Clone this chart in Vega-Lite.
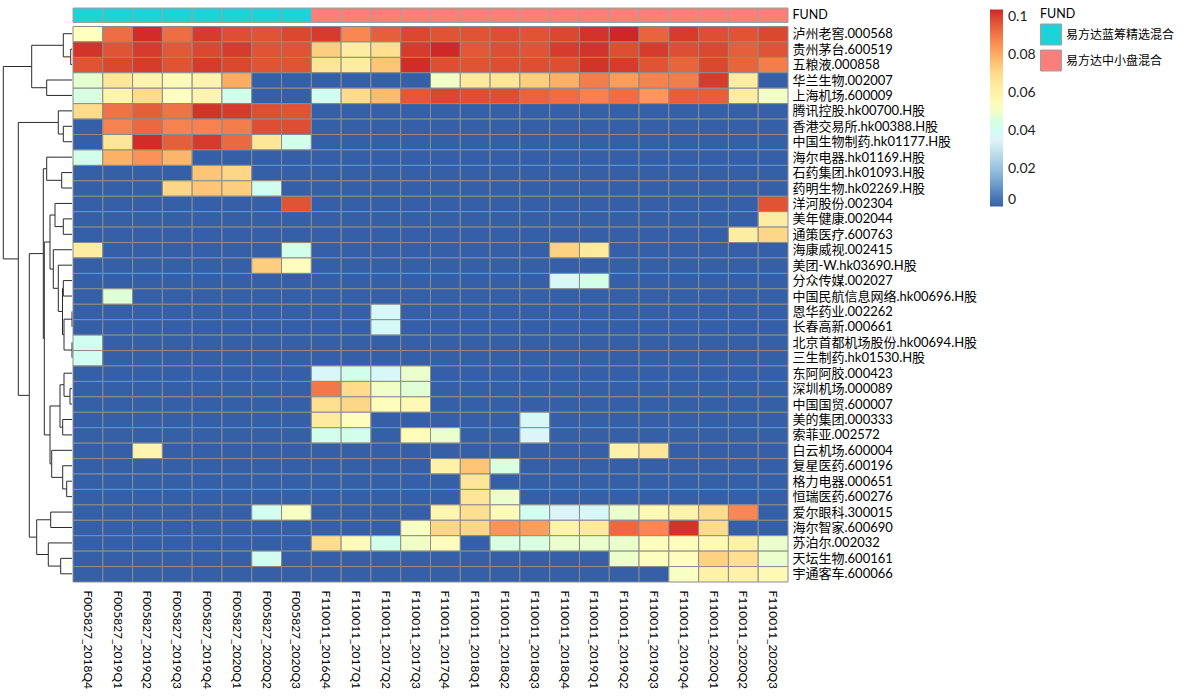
{
"$schema": "https://vega.github.io/schema/vega-lite/v6.json",
"padding": {"left": 0, "top": 7, "right": 0, "bottom": 0},
"background": "white",
"config": {"view": {"stroke": null}, "font": "Lato, 'Noto Sans CJK SC', sans-serif"},
"datasets": {
"stocks": [
{"r":1,"stock":"泸州老窖.000568"},{"r":2,"stock":"贵州茅台.600519"},{"r":3,"stock":"五粮液.000858"},{"r":4,"stock":"华兰生物.002007"},{"r":5,"stock":"上海机场.600009"},{"r":6,"stock":"腾讯控股.hk00700.H股"},{"r":7,"stock":"香港交易所.hk00388.H股"},{"r":8,"stock":"中国生物制药.hk01177.H股"},{"r":9,"stock":"海尔电器.hk01169.H股"},{"r":10,"stock":"石药集团.hk01093.H股"},{"r":11,"stock":"药明生物.hk02269.H股"},{"r":12,"stock":"洋河股份.002304"},{"r":13,"stock":"美年健康.002044"},{"r":14,"stock":"通策医疗.600763"},{"r":15,"stock":"海康威视.002415"},{"r":16,"stock":"美团-W.hk03690.H股"},{"r":17,"stock":"分众传媒.002027"},{"r":18,"stock":"中国民航信息网络.hk00696.H股"},{"r":19,"stock":"恩华药业.002262"},{"r":20,"stock":"长春高新.000661"},{"r":21,"stock":"北京首都机场股份.hk00694.H股"},{"r":22,"stock":"三生制药.hk01530.H股"},{"r":23,"stock":"东阿阿胶.000423"},{"r":24,"stock":"深圳机场.000089"},{"r":25,"stock":"中国国贸.600007"},{"r":26,"stock":"美的集团.000333"},{"r":27,"stock":"索菲亚.002572"},{"r":28,"stock":"白云机场.600004"},{"r":29,"stock":"复星医药.600196"},{"r":30,"stock":"格力电器.000651"},{"r":31,"stock":"恒瑞医药.600276"},{"r":32,"stock":"爱尔眼科.300015"},{"r":33,"stock":"海尔智家.600690"},{"r":34,"stock":"苏泊尔.002032"},{"r":35,"stock":"天坛生物.600161"},{"r":36,"stock":"宇通客车.600066"}
],
"cols": [
{"c":1,"col":"F005827_2018Q4","fund":"易方达蓝筹精选混合","track":"FUND"},{"c":2,"col":"F005827_2019Q1","fund":"易方达蓝筹精选混合","track":"FUND"},{"c":3,"col":"F005827_2019Q2","fund":"易方达蓝筹精选混合","track":"FUND"},{"c":4,"col":"F005827_2019Q3","fund":"易方达蓝筹精选混合","track":"FUND"},{"c":5,"col":"F005827_2019Q4","fund":"易方达蓝筹精选混合","track":"FUND"},{"c":6,"col":"F005827_2020Q1","fund":"易方达蓝筹精选混合","track":"FUND"},{"c":7,"col":"F005827_2020Q2","fund":"易方达蓝筹精选混合","track":"FUND"},{"c":8,"col":"F005827_2020Q3","fund":"易方达蓝筹精选混合","track":"FUND"},
{"c":9,"col":"F110011_2016Q4","fund":"易方达中小盘混合","track":"FUND"},{"c":10,"col":"F110011_2017Q1","fund":"易方达中小盘混合","track":"FUND"},{"c":11,"col":"F110011_2017Q2","fund":"易方达中小盘混合","track":"FUND"},{"c":12,"col":"F110011_2017Q3","fund":"易方达中小盘混合","track":"FUND"},{"c":13,"col":"F110011_2017Q4","fund":"易方达中小盘混合","track":"FUND"},{"c":14,"col":"F110011_2018Q1","fund":"易方达中小盘混合","track":"FUND"},{"c":15,"col":"F110011_2018Q2","fund":"易方达中小盘混合","track":"FUND"},{"c":16,"col":"F110011_2018Q3","fund":"易方达中小盘混合","track":"FUND"},{"c":17,"col":"F110011_2018Q4","fund":"易方达中小盘混合","track":"FUND"},{"c":18,"col":"F110011_2019Q1","fund":"易方达中小盘混合","track":"FUND"},{"c":19,"col":"F110011_2019Q2","fund":"易方达中小盘混合","track":"FUND"},{"c":20,"col":"F110011_2019Q3","fund":"易方达中小盘混合","track":"FUND"},{"c":21,"col":"F110011_2019Q4","fund":"易方达中小盘混合","track":"FUND"},{"c":22,"col":"F110011_2020Q1","fund":"易方达中小盘混合","track":"FUND"},{"c":23,"col":"F110011_2020Q2","fund":"易方达中小盘混合","track":"FUND"},{"c":24,"col":"F110011_2020Q3","fund":"易方达中小盘混合","track":"FUND"}
],
"dendro": [
{"ph":1.3,"py":2.5,"ch":0,"cy":2},{"ph":1.3,"py":2.5,"ch":0,"cy":3},
{"ph":8.7,"py":1.75,"ch":0,"cy":1},{"ph":8.7,"py":1.75,"ch":1.3,"cy":2.5},
{"ph":25.3,"py":4.5,"ch":0,"cy":4},{"ph":25.3,"py":4.5,"ch":0,"cy":5},
{"ph":40.3,"py":3.125,"ch":8.7,"cy":1.75},{"ph":40.3,"py":3.125,"ch":25.3,"cy":4.5},
{"ph":8.7,"py":7.5,"ch":0,"cy":7},{"ph":8.7,"py":7.5,"ch":0,"cy":8},
{"ph":13.7,"py":6.75,"ch":0,"cy":6},{"ph":13.7,"py":6.75,"ch":8.7,"cy":7.5},
{"ph":10.3,"py":10.5,"ch":0,"cy":10},{"ph":10.3,"py":10.5,"ch":0,"cy":11},
{"ph":25.3,"py":9.75,"ch":0,"cy":9},{"ph":25.3,"py":9.75,"ch":10.3,"cy":10.5},
{"ph":8.7,"py":13.5,"ch":0,"cy":13},{"ph":8.7,"py":13.5,"ch":0,"cy":14},
{"ph":17,"py":12.75,"ch":0,"cy":12},{"ph":17,"py":12.75,"ch":8.7,"cy":13.5},
{"ph":8.7,"py":17.5,"ch":0,"cy":17},{"ph":8.7,"py":17.5,"ch":0,"cy":18},
{"ph":0,"py":19.5,"ch":0,"cy":19},{"ph":0,"py":19.5,"ch":0,"cy":20},
{"ph":0,"py":21.5,"ch":0,"cy":21},{"ph":0,"py":21.5,"ch":0,"cy":22},
{"ph":8,"py":20.5,"ch":0,"cy":19.5},{"ph":8,"py":20.5,"ch":0,"cy":21.5},
{"ph":9.5,"py":19,"ch":8.7,"cy":17.5},{"ph":9.5,"py":19,"ch":8,"cy":20.5},
{"ph":13.7,"py":17.5,"ch":0,"cy":16},{"ph":13.7,"py":17.5,"ch":9.5,"cy":19},
{"ph":18.7,"py":16.25,"ch":0,"cy":15},{"ph":18.7,"py":16.25,"ch":13.7,"cy":17.5},
{"ph":22,"py":14.5,"ch":17,"cy":12.75},{"ph":22,"py":14.5,"ch":18.7,"cy":16.25},
{"ph":2,"py":24.5,"ch":0,"cy":24},{"ph":2,"py":24.5,"ch":0,"cy":25},
{"ph":8,"py":23.75,"ch":0,"cy":23},{"ph":8,"py":23.75,"ch":2,"cy":24.5},
{"ph":9.3,"py":26.5,"ch":0,"cy":26},{"ph":9.3,"py":26.5,"ch":0,"cy":27},
{"ph":12,"py":25.125,"ch":8,"cy":23.75},{"ph":12,"py":25.125,"ch":9.3,"cy":26.5},
{"ph":5.3,"py":30.5,"ch":0,"cy":30},{"ph":5.3,"py":30.5,"ch":0,"cy":31},
{"ph":9.3,"py":29.75,"ch":0,"cy":29},{"ph":9.3,"py":29.75,"ch":5.3,"cy":30.5},
{"ph":20.3,"py":28.875,"ch":0,"cy":28},{"ph":20.3,"py":28.875,"ch":9.3,"cy":29.75},
{"ph":22,"py":27,"ch":12,"cy":25.125},{"ph":22,"py":27,"ch":20.3,"cy":28.875},
{"ph":27.7,"py":20.75,"ch":22,"cy":14.5},{"ph":27.7,"py":20.75,"ch":22,"cy":27},
{"ph":28.7,"py":15.25,"ch":25.3,"cy":9.75},{"ph":28.7,"py":15.25,"ch":27.7,"cy":20.75},
{"ph":21.3,"py":32.5,"ch":0,"cy":32},{"ph":21.3,"py":32.5,"ch":0,"cy":33},
{"ph":11.3,"py":35.5,"ch":0,"cy":35},{"ph":11.3,"py":35.5,"ch":0,"cy":36},
{"ph":23.7,"py":34.75,"ch":0,"cy":34},{"ph":23.7,"py":34.75,"ch":11.3,"cy":35.5},
{"ph":35.3,"py":33.625,"ch":21.3,"cy":32.5},{"ph":35.3,"py":33.625,"ch":23.7,"cy":34.75},
{"ph":42.7,"py":24.4375,"ch":28.7,"cy":15.25},{"ph":42.7,"py":24.4375,"ch":35.3,"cy":33.625},
{"ph":53.7,"py":15.59375,"ch":13.7,"cy":6.75},{"ph":53.7,"py":15.59375,"ch":42.7,"cy":24.4375},
{"ph":68.7,"py":9.359375,"ch":40.3,"cy":3.125},{"ph":68.7,"py":9.359375,"ch":53.7,"cy":15.59375}
],
"cells": [
{"r":1,"c":1,"v":0.052},{"r":1,"c":2,"v":0.092},{"r":1,"c":3,"v":0.103},{"r":1,"c":4,"v":0.092},{"r":1,"c":5,"v":0.101},{"r":1,"c":6,"v":0.098},{"r":1,"c":7,"v":0.097},{"r":1,"c":8,"v":0.099},{"r":1,"c":9,"v":0.101},{"r":1,"c":10,"v":0.087},{"r":1,"c":11,"v":0.095},{"r":1,"c":12,"v":0.099},{"r":1,"c":13,"v":0.097},{"r":1,"c":14,"v":0.097},{"r":1,"c":15,"v":0.098},{"r":1,"c":16,"v":0.097},{"r":1,"c":17,"v":0.099},{"r":1,"c":18,"v":0.102},{"r":1,"c":19,"v":0.1037},{"r":1,"c":20,"v":0.094},{"r":1,"c":21,"v":0.101},{"r":1,"c":22,"v":0.098},{"r":1,"c":23,"v":0.097},{"r":1,"c":24,"v":0.099},
{"r":2,"c":1,"v":0.102},{"r":2,"c":2,"v":0.097},{"r":2,"c":3,"v":0.101},{"r":2,"c":4,"v":0.096},{"r":2,"c":5,"v":0.099},{"r":2,"c":6,"v":0.101},{"r":2,"c":7,"v":0.097},{"r":2,"c":8,"v":0.097},{"r":2,"c":9,"v":0.073},{"r":2,"c":10,"v":0.062},{"r":2,"c":11,"v":0.069},{"r":2,"c":12,"v":0.101},{"r":2,"c":13,"v":0.1035},{"r":2,"c":14,"v":0.096},{"r":2,"c":15,"v":0.098},{"r":2,"c":16,"v":0.097},{"r":2,"c":17,"v":0.101},{"r":2,"c":18,"v":0.102},{"r":2,"c":19,"v":0.098},{"r":2,"c":20,"v":0.101},{"r":2,"c":21,"v":0.098},{"r":2,"c":22,"v":0.099},{"r":2,"c":23,"v":0.095},{"r":2,"c":24,"v":0.097},
{"r":3,"c":1,"v":0.097},{"r":3,"c":2,"v":0.099},{"r":3,"c":3,"v":0.101},{"r":3,"c":4,"v":0.097},{"r":3,"c":5,"v":0.101},{"r":3,"c":6,"v":0.099},{"r":3,"c":7,"v":0.097},{"r":3,"c":8,"v":0.097},{"r":3,"c":9,"v":0.066},{"r":3,"c":10,"v":0.062},{"r":3,"c":11,"v":0.075},{"r":3,"c":12,"v":0.103},{"r":3,"c":13,"v":0.098},{"r":3,"c":14,"v":0.097},{"r":3,"c":15,"v":0.098},{"r":3,"c":16,"v":0.098},{"r":3,"c":17,"v":0.098},{"r":3,"c":18,"v":0.102},{"r":3,"c":19,"v":0.101},{"r":3,"c":20,"v":0.097},{"r":3,"c":21,"v":0.094},{"r":3,"c":22,"v":0.099},{"r":3,"c":23,"v":0.094},{"r":3,"c":24,"v":0.089},
{"r":4,"c":1,"v":0.048},{"r":4,"c":2,"v":0.066},{"r":4,"c":3,"v":0.058},{"r":4,"c":4,"v":0.054},{"r":4,"c":5,"v":0.058},{"r":4,"c":6,"v":0.08},{"r":4,"c":7,"v":0},{"r":4,"c":8,"v":0},{"r":4,"c":9,"v":0},{"r":4,"c":10,"v":0},{"r":4,"c":11,"v":0},{"r":4,"c":12,"v":0},{"r":4,"c":13,"v":0.05},{"r":4,"c":14,"v":0.064},{"r":4,"c":15,"v":0.066},{"r":4,"c":16,"v":0.073},{"r":4,"c":17,"v":0.079},{"r":4,"c":18,"v":0.089},{"r":4,"c":19,"v":0.083},{"r":4,"c":20,"v":0.088},{"r":4,"c":21,"v":0.089},{"r":4,"c":22,"v":0.101},{"r":4,"c":23,"v":0.062},{"r":4,"c":24,"v":0},
{"r":5,"c":1,"v":0.045},{"r":5,"c":2,"v":0.058},{"r":5,"c":3,"v":0.07},{"r":5,"c":4,"v":0.052},{"r":5,"c":5,"v":0.058},{"r":5,"c":6,"v":0.043},{"r":5,"c":7,"v":0},{"r":5,"c":8,"v":0},{"r":5,"c":9,"v":0.041},{"r":5,"c":10,"v":0.07},{"r":5,"c":11,"v":0.077},{"r":5,"c":12,"v":0.096},{"r":5,"c":13,"v":0.099},{"r":5,"c":14,"v":0.098},{"r":5,"c":15,"v":0.098},{"r":5,"c":16,"v":0.094},{"r":5,"c":17,"v":0.092},{"r":5,"c":18,"v":0.088},{"r":5,"c":19,"v":0.092},{"r":5,"c":20,"v":0.084},{"r":5,"c":21,"v":0.095},{"r":5,"c":22,"v":0.095},{"r":5,"c":23,"v":0.062},{"r":5,"c":24,"v":0.05},
{"r":6,"c":1,"v":0.07},{"r":6,"c":2,"v":0.091},{"r":6,"c":3,"v":0.095},{"r":6,"c":4,"v":0.091},{"r":6,"c":5,"v":0.102},{"r":6,"c":6,"v":0.101},{"r":6,"c":7,"v":0.098},{"r":6,"c":8,"v":0.097},{"r":6,"c":9,"v":0},{"r":6,"c":10,"v":0},{"r":6,"c":11,"v":0},{"r":6,"c":12,"v":0},{"r":6,"c":13,"v":0},{"r":6,"c":14,"v":0},{"r":6,"c":15,"v":0},{"r":6,"c":16,"v":0},{"r":6,"c":17,"v":0},{"r":6,"c":18,"v":0},{"r":6,"c":19,"v":0},{"r":6,"c":20,"v":0},{"r":6,"c":21,"v":0},{"r":6,"c":22,"v":0},{"r":6,"c":23,"v":0},{"r":6,"c":24,"v":0},
{"r":7,"c":1,"v":0},{"r":7,"c":2,"v":0.088},{"r":7,"c":3,"v":0.093},{"r":7,"c":4,"v":0.088},{"r":7,"c":5,"v":0.088},{"r":7,"c":6,"v":0.089},{"r":7,"c":7,"v":0.098},{"r":7,"c":8,"v":0.098},{"r":7,"c":9,"v":0},{"r":7,"c":10,"v":0},{"r":7,"c":11,"v":0},{"r":7,"c":12,"v":0},{"r":7,"c":13,"v":0},{"r":7,"c":14,"v":0},{"r":7,"c":15,"v":0},{"r":7,"c":16,"v":0},{"r":7,"c":17,"v":0},{"r":7,"c":18,"v":0},{"r":7,"c":19,"v":0},{"r":7,"c":20,"v":0},{"r":7,"c":21,"v":0},{"r":7,"c":22,"v":0},{"r":7,"c":23,"v":0},{"r":7,"c":24,"v":0},
{"r":8,"c":1,"v":0},{"r":8,"c":2,"v":0.066},{"r":8,"c":3,"v":0.103},{"r":8,"c":4,"v":0.095},{"r":8,"c":5,"v":0.101},{"r":8,"c":6,"v":0.093},{"r":8,"c":7,"v":0.066},{"r":8,"c":8,"v":0.043},{"r":8,"c":9,"v":0},{"r":8,"c":10,"v":0},{"r":8,"c":11,"v":0},{"r":8,"c":12,"v":0},{"r":8,"c":13,"v":0},{"r":8,"c":14,"v":0},{"r":8,"c":15,"v":0},{"r":8,"c":16,"v":0},{"r":8,"c":17,"v":0},{"r":8,"c":18,"v":0},{"r":8,"c":19,"v":0},{"r":8,"c":20,"v":0},{"r":8,"c":21,"v":0},{"r":8,"c":22,"v":0},{"r":8,"c":23,"v":0},{"r":8,"c":24,"v":0},
{"r":9,"c":1,"v":0.043},{"r":9,"c":2,"v":0.079},{"r":9,"c":3,"v":0.085},{"r":9,"c":4,"v":0.078},{"r":9,"c":5,"v":0},{"r":9,"c":6,"v":0},{"r":9,"c":7,"v":0},{"r":9,"c":8,"v":0},{"r":9,"c":9,"v":0},{"r":9,"c":10,"v":0},{"r":9,"c":11,"v":0},{"r":9,"c":12,"v":0},{"r":9,"c":13,"v":0},{"r":9,"c":14,"v":0},{"r":9,"c":15,"v":0},{"r":9,"c":16,"v":0},{"r":9,"c":17,"v":0},{"r":9,"c":18,"v":0},{"r":9,"c":19,"v":0},{"r":9,"c":20,"v":0},{"r":9,"c":21,"v":0},{"r":9,"c":22,"v":0},{"r":9,"c":23,"v":0},{"r":9,"c":24,"v":0},
{"r":10,"c":1,"v":0},{"r":10,"c":2,"v":0},{"r":10,"c":3,"v":0},{"r":10,"c":4,"v":0},{"r":10,"c":5,"v":0.075},{"r":10,"c":6,"v":0.071},{"r":10,"c":7,"v":0},{"r":10,"c":8,"v":0},{"r":10,"c":9,"v":0},{"r":10,"c":10,"v":0},{"r":10,"c":11,"v":0},{"r":10,"c":12,"v":0},{"r":10,"c":13,"v":0},{"r":10,"c":14,"v":0},{"r":10,"c":15,"v":0},{"r":10,"c":16,"v":0},{"r":10,"c":17,"v":0},{"r":10,"c":18,"v":0},{"r":10,"c":19,"v":0},{"r":10,"c":20,"v":0},{"r":10,"c":21,"v":0},{"r":10,"c":22,"v":0},{"r":10,"c":23,"v":0},{"r":10,"c":24,"v":0},
{"r":11,"c":1,"v":0},{"r":11,"c":2,"v":0},{"r":11,"c":3,"v":0},{"r":11,"c":4,"v":0.071},{"r":11,"c":5,"v":0.075},{"r":11,"c":6,"v":0.073},{"r":11,"c":7,"v":0.041},{"r":11,"c":8,"v":0},{"r":11,"c":9,"v":0},{"r":11,"c":10,"v":0},{"r":11,"c":11,"v":0},{"r":11,"c":12,"v":0},{"r":11,"c":13,"v":0},{"r":11,"c":14,"v":0},{"r":11,"c":15,"v":0},{"r":11,"c":16,"v":0},{"r":11,"c":17,"v":0},{"r":11,"c":18,"v":0},{"r":11,"c":19,"v":0},{"r":11,"c":20,"v":0},{"r":11,"c":21,"v":0},{"r":11,"c":22,"v":0},{"r":11,"c":23,"v":0},{"r":11,"c":24,"v":0},
{"r":12,"c":1,"v":0},{"r":12,"c":2,"v":0},{"r":12,"c":3,"v":0},{"r":12,"c":4,"v":0},{"r":12,"c":5,"v":0},{"r":12,"c":6,"v":0},{"r":12,"c":7,"v":0},{"r":12,"c":8,"v":0.097},{"r":12,"c":9,"v":0},{"r":12,"c":10,"v":0},{"r":12,"c":11,"v":0},{"r":12,"c":12,"v":0},{"r":12,"c":13,"v":0},{"r":12,"c":14,"v":0},{"r":12,"c":15,"v":0},{"r":12,"c":16,"v":0},{"r":12,"c":17,"v":0},{"r":12,"c":18,"v":0},{"r":12,"c":19,"v":0},{"r":12,"c":20,"v":0},{"r":12,"c":21,"v":0},{"r":12,"c":22,"v":0},{"r":12,"c":23,"v":0},{"r":12,"c":24,"v":0.097},
{"r":13,"c":1,"v":0},{"r":13,"c":2,"v":0},{"r":13,"c":3,"v":0},{"r":13,"c":4,"v":0},{"r":13,"c":5,"v":0},{"r":13,"c":6,"v":0},{"r":13,"c":7,"v":0},{"r":13,"c":8,"v":0},{"r":13,"c":9,"v":0},{"r":13,"c":10,"v":0},{"r":13,"c":11,"v":0},{"r":13,"c":12,"v":0},{"r":13,"c":13,"v":0},{"r":13,"c":14,"v":0},{"r":13,"c":15,"v":0},{"r":13,"c":16,"v":0},{"r":13,"c":17,"v":0},{"r":13,"c":18,"v":0},{"r":13,"c":19,"v":0},{"r":13,"c":20,"v":0},{"r":13,"c":21,"v":0},{"r":13,"c":22,"v":0},{"r":13,"c":23,"v":0},{"r":13,"c":24,"v":0.062},
{"r":14,"c":1,"v":0},{"r":14,"c":2,"v":0},{"r":14,"c":3,"v":0},{"r":14,"c":4,"v":0},{"r":14,"c":5,"v":0},{"r":14,"c":6,"v":0},{"r":14,"c":7,"v":0},{"r":14,"c":8,"v":0},{"r":14,"c":9,"v":0},{"r":14,"c":10,"v":0},{"r":14,"c":11,"v":0},{"r":14,"c":12,"v":0},{"r":14,"c":13,"v":0},{"r":14,"c":14,"v":0},{"r":14,"c":15,"v":0},{"r":14,"c":16,"v":0},{"r":14,"c":17,"v":0},{"r":14,"c":18,"v":0},{"r":14,"c":19,"v":0},{"r":14,"c":20,"v":0},{"r":14,"c":21,"v":0},{"r":14,"c":22,"v":0},{"r":14,"c":23,"v":0.062},{"r":14,"c":24,"v":0.071},
{"r":15,"c":1,"v":0.062},{"r":15,"c":2,"v":0},{"r":15,"c":3,"v":0},{"r":15,"c":4,"v":0},{"r":15,"c":5,"v":0},{"r":15,"c":6,"v":0},{"r":15,"c":7,"v":0},{"r":15,"c":8,"v":0.043},{"r":15,"c":9,"v":0},{"r":15,"c":10,"v":0},{"r":15,"c":11,"v":0},{"r":15,"c":12,"v":0},{"r":15,"c":13,"v":0},{"r":15,"c":14,"v":0},{"r":15,"c":15,"v":0},{"r":15,"c":16,"v":0},{"r":15,"c":17,"v":0.072},{"r":15,"c":18,"v":0.064},{"r":15,"c":19,"v":0},{"r":15,"c":20,"v":0},{"r":15,"c":21,"v":0},{"r":15,"c":22,"v":0},{"r":15,"c":23,"v":0},{"r":15,"c":24,"v":0},
{"r":16,"c":1,"v":0},{"r":16,"c":2,"v":0},{"r":16,"c":3,"v":0},{"r":16,"c":4,"v":0},{"r":16,"c":5,"v":0},{"r":16,"c":6,"v":0},{"r":16,"c":7,"v":0.073},{"r":16,"c":8,"v":0.053},{"r":16,"c":9,"v":0},{"r":16,"c":10,"v":0},{"r":16,"c":11,"v":0},{"r":16,"c":12,"v":0},{"r":16,"c":13,"v":0},{"r":16,"c":14,"v":0},{"r":16,"c":15,"v":0},{"r":16,"c":16,"v":0},{"r":16,"c":17,"v":0},{"r":16,"c":18,"v":0},{"r":16,"c":19,"v":0},{"r":16,"c":20,"v":0},{"r":16,"c":21,"v":0},{"r":16,"c":22,"v":0},{"r":16,"c":23,"v":0},{"r":16,"c":24,"v":0},
{"r":17,"c":1,"v":0},{"r":17,"c":2,"v":0},{"r":17,"c":3,"v":0},{"r":17,"c":4,"v":0},{"r":17,"c":5,"v":0},{"r":17,"c":6,"v":0},{"r":17,"c":7,"v":0},{"r":17,"c":8,"v":0},{"r":17,"c":9,"v":0},{"r":17,"c":10,"v":0},{"r":17,"c":11,"v":0},{"r":17,"c":12,"v":0},{"r":17,"c":13,"v":0},{"r":17,"c":14,"v":0},{"r":17,"c":15,"v":0},{"r":17,"c":16,"v":0},{"r":17,"c":17,"v":0.038},{"r":17,"c":18,"v":0.043},{"r":17,"c":19,"v":0},{"r":17,"c":20,"v":0},{"r":17,"c":21,"v":0},{"r":17,"c":22,"v":0},{"r":17,"c":23,"v":0},{"r":17,"c":24,"v":0},
{"r":18,"c":1,"v":0},{"r":18,"c":2,"v":0.047},{"r":18,"c":3,"v":0},{"r":18,"c":4,"v":0},{"r":18,"c":5,"v":0},{"r":18,"c":6,"v":0},{"r":18,"c":7,"v":0},{"r":18,"c":8,"v":0},{"r":18,"c":9,"v":0},{"r":18,"c":10,"v":0},{"r":18,"c":11,"v":0},{"r":18,"c":12,"v":0},{"r":18,"c":13,"v":0},{"r":18,"c":14,"v":0},{"r":18,"c":15,"v":0},{"r":18,"c":16,"v":0},{"r":18,"c":17,"v":0},{"r":18,"c":18,"v":0},{"r":18,"c":19,"v":0},{"r":18,"c":20,"v":0},{"r":18,"c":21,"v":0},{"r":18,"c":22,"v":0},{"r":18,"c":23,"v":0},{"r":18,"c":24,"v":0},
{"r":19,"c":1,"v":0},{"r":19,"c":2,"v":0},{"r":19,"c":3,"v":0},{"r":19,"c":4,"v":0},{"r":19,"c":5,"v":0},{"r":19,"c":6,"v":0},{"r":19,"c":7,"v":0},{"r":19,"c":8,"v":0},{"r":19,"c":9,"v":0},{"r":19,"c":10,"v":0},{"r":19,"c":11,"v":0.038},{"r":19,"c":12,"v":0},{"r":19,"c":13,"v":0},{"r":19,"c":14,"v":0},{"r":19,"c":15,"v":0},{"r":19,"c":16,"v":0},{"r":19,"c":17,"v":0},{"r":19,"c":18,"v":0},{"r":19,"c":19,"v":0},{"r":19,"c":20,"v":0},{"r":19,"c":21,"v":0},{"r":19,"c":22,"v":0},{"r":19,"c":23,"v":0},{"r":19,"c":24,"v":0},
{"r":20,"c":1,"v":0},{"r":20,"c":2,"v":0},{"r":20,"c":3,"v":0},{"r":20,"c":4,"v":0},{"r":20,"c":5,"v":0},{"r":20,"c":6,"v":0},{"r":20,"c":7,"v":0},{"r":20,"c":8,"v":0},{"r":20,"c":9,"v":0},{"r":20,"c":10,"v":0},{"r":20,"c":11,"v":0.038},{"r":20,"c":12,"v":0},{"r":20,"c":13,"v":0},{"r":20,"c":14,"v":0},{"r":20,"c":15,"v":0},{"r":20,"c":16,"v":0},{"r":20,"c":17,"v":0},{"r":20,"c":18,"v":0},{"r":20,"c":19,"v":0},{"r":20,"c":20,"v":0},{"r":20,"c":21,"v":0},{"r":20,"c":22,"v":0},{"r":20,"c":23,"v":0},{"r":20,"c":24,"v":0},
{"r":21,"c":1,"v":0.041},{"r":21,"c":2,"v":0},{"r":21,"c":3,"v":0},{"r":21,"c":4,"v":0},{"r":21,"c":5,"v":0},{"r":21,"c":6,"v":0},{"r":21,"c":7,"v":0},{"r":21,"c":8,"v":0},{"r":21,"c":9,"v":0},{"r":21,"c":10,"v":0},{"r":21,"c":11,"v":0},{"r":21,"c":12,"v":0},{"r":21,"c":13,"v":0},{"r":21,"c":14,"v":0},{"r":21,"c":15,"v":0},{"r":21,"c":16,"v":0},{"r":21,"c":17,"v":0},{"r":21,"c":18,"v":0},{"r":21,"c":19,"v":0},{"r":21,"c":20,"v":0},{"r":21,"c":21,"v":0},{"r":21,"c":22,"v":0},{"r":21,"c":23,"v":0},{"r":21,"c":24,"v":0},
{"r":22,"c":1,"v":0.041},{"r":22,"c":2,"v":0},{"r":22,"c":3,"v":0},{"r":22,"c":4,"v":0},{"r":22,"c":5,"v":0},{"r":22,"c":6,"v":0},{"r":22,"c":7,"v":0},{"r":22,"c":8,"v":0},{"r":22,"c":9,"v":0},{"r":22,"c":10,"v":0},{"r":22,"c":11,"v":0},{"r":22,"c":12,"v":0},{"r":22,"c":13,"v":0},{"r":22,"c":14,"v":0},{"r":22,"c":15,"v":0},{"r":22,"c":16,"v":0},{"r":22,"c":17,"v":0},{"r":22,"c":18,"v":0},{"r":22,"c":19,"v":0},{"r":22,"c":20,"v":0},{"r":22,"c":21,"v":0},{"r":22,"c":22,"v":0},{"r":22,"c":23,"v":0},{"r":22,"c":24,"v":0},
{"r":23,"c":1,"v":0},{"r":23,"c":2,"v":0},{"r":23,"c":3,"v":0},{"r":23,"c":4,"v":0},{"r":23,"c":5,"v":0},{"r":23,"c":6,"v":0},{"r":23,"c":7,"v":0},{"r":23,"c":8,"v":0},{"r":23,"c":9,"v":0.037},{"r":23,"c":10,"v":0.043},{"r":23,"c":11,"v":0.038},{"r":23,"c":12,"v":0.049},{"r":23,"c":13,"v":0},{"r":23,"c":14,"v":0},{"r":23,"c":15,"v":0},{"r":23,"c":16,"v":0},{"r":23,"c":17,"v":0},{"r":23,"c":18,"v":0},{"r":23,"c":19,"v":0},{"r":23,"c":20,"v":0},{"r":23,"c":21,"v":0},{"r":23,"c":22,"v":0},{"r":23,"c":23,"v":0},{"r":23,"c":24,"v":0},
{"r":24,"c":1,"v":0},{"r":24,"c":2,"v":0},{"r":24,"c":3,"v":0},{"r":24,"c":4,"v":0},{"r":24,"c":5,"v":0},{"r":24,"c":6,"v":0},{"r":24,"c":7,"v":0},{"r":24,"c":8,"v":0},{"r":24,"c":9,"v":0.09},{"r":24,"c":10,"v":0.07},{"r":24,"c":11,"v":0.05},{"r":24,"c":12,"v":0.047},{"r":24,"c":13,"v":0},{"r":24,"c":14,"v":0},{"r":24,"c":15,"v":0},{"r":24,"c":16,"v":0},{"r":24,"c":17,"v":0},{"r":24,"c":18,"v":0},{"r":24,"c":19,"v":0},{"r":24,"c":20,"v":0},{"r":24,"c":21,"v":0},{"r":24,"c":22,"v":0},{"r":24,"c":23,"v":0},{"r":24,"c":24,"v":0},
{"r":25,"c":1,"v":0},{"r":25,"c":2,"v":0},{"r":25,"c":3,"v":0},{"r":25,"c":4,"v":0},{"r":25,"c":5,"v":0},{"r":25,"c":6,"v":0},{"r":25,"c":7,"v":0},{"r":25,"c":8,"v":0},{"r":25,"c":9,"v":0.069},{"r":25,"c":10,"v":0.071},{"r":25,"c":11,"v":0.053},{"r":25,"c":12,"v":0.055},{"r":25,"c":13,"v":0},{"r":25,"c":14,"v":0},{"r":25,"c":15,"v":0},{"r":25,"c":16,"v":0},{"r":25,"c":17,"v":0},{"r":25,"c":18,"v":0},{"r":25,"c":19,"v":0},{"r":25,"c":20,"v":0},{"r":25,"c":21,"v":0},{"r":25,"c":22,"v":0},{"r":25,"c":23,"v":0},{"r":25,"c":24,"v":0},
{"r":26,"c":1,"v":0},{"r":26,"c":2,"v":0},{"r":26,"c":3,"v":0},{"r":26,"c":4,"v":0},{"r":26,"c":5,"v":0},{"r":26,"c":6,"v":0},{"r":26,"c":7,"v":0},{"r":26,"c":8,"v":0},{"r":26,"c":9,"v":0.064},{"r":26,"c":10,"v":0.053},{"r":26,"c":11,"v":0},{"r":26,"c":12,"v":0},{"r":26,"c":13,"v":0},{"r":26,"c":14,"v":0},{"r":26,"c":15,"v":0},{"r":26,"c":16,"v":0.038},{"r":26,"c":17,"v":0},{"r":26,"c":18,"v":0},{"r":26,"c":19,"v":0},{"r":26,"c":20,"v":0},{"r":26,"c":21,"v":0},{"r":26,"c":22,"v":0},{"r":26,"c":23,"v":0},{"r":26,"c":24,"v":0},
{"r":27,"c":1,"v":0},{"r":27,"c":2,"v":0},{"r":27,"c":3,"v":0},{"r":27,"c":4,"v":0},{"r":27,"c":5,"v":0},{"r":27,"c":6,"v":0},{"r":27,"c":7,"v":0},{"r":27,"c":8,"v":0},{"r":27,"c":9,"v":0.043},{"r":27,"c":10,"v":0.043},{"r":27,"c":11,"v":0},{"r":27,"c":12,"v":0.053},{"r":27,"c":13,"v":0.049},{"r":27,"c":14,"v":0},{"r":27,"c":15,"v":0},{"r":27,"c":16,"v":0.036},{"r":27,"c":17,"v":0},{"r":27,"c":18,"v":0},{"r":27,"c":19,"v":0},{"r":27,"c":20,"v":0},{"r":27,"c":21,"v":0},{"r":27,"c":22,"v":0},{"r":27,"c":23,"v":0},{"r":27,"c":24,"v":0},
{"r":28,"c":1,"v":0},{"r":28,"c":2,"v":0},{"r":28,"c":3,"v":0.058},{"r":28,"c":4,"v":0},{"r":28,"c":5,"v":0},{"r":28,"c":6,"v":0},{"r":28,"c":7,"v":0},{"r":28,"c":8,"v":0},{"r":28,"c":9,"v":0},{"r":28,"c":10,"v":0},{"r":28,"c":11,"v":0},{"r":28,"c":12,"v":0},{"r":28,"c":13,"v":0},{"r":28,"c":14,"v":0},{"r":28,"c":15,"v":0},{"r":28,"c":16,"v":0},{"r":28,"c":17,"v":0},{"r":28,"c":18,"v":0},{"r":28,"c":19,"v":0.06},{"r":28,"c":20,"v":0.066},{"r":28,"c":21,"v":0},{"r":28,"c":22,"v":0},{"r":28,"c":23,"v":0},{"r":28,"c":24,"v":0},
{"r":29,"c":1,"v":0},{"r":29,"c":2,"v":0},{"r":29,"c":3,"v":0},{"r":29,"c":4,"v":0},{"r":29,"c":5,"v":0},{"r":29,"c":6,"v":0},{"r":29,"c":7,"v":0},{"r":29,"c":8,"v":0},{"r":29,"c":9,"v":0},{"r":29,"c":10,"v":0},{"r":29,"c":11,"v":0},{"r":29,"c":12,"v":0},{"r":29,"c":13,"v":0.06},{"r":29,"c":14,"v":0.075},{"r":29,"c":15,"v":0.045},{"r":29,"c":16,"v":0},{"r":29,"c":17,"v":0},{"r":29,"c":18,"v":0},{"r":29,"c":19,"v":0},{"r":29,"c":20,"v":0},{"r":29,"c":21,"v":0},{"r":29,"c":22,"v":0},{"r":29,"c":23,"v":0},{"r":29,"c":24,"v":0},
{"r":30,"c":1,"v":0},{"r":30,"c":2,"v":0},{"r":30,"c":3,"v":0},{"r":30,"c":4,"v":0},{"r":30,"c":5,"v":0},{"r":30,"c":6,"v":0},{"r":30,"c":7,"v":0},{"r":30,"c":8,"v":0},{"r":30,"c":9,"v":0},{"r":30,"c":10,"v":0},{"r":30,"c":11,"v":0},{"r":30,"c":12,"v":0},{"r":30,"c":13,"v":0},{"r":30,"c":14,"v":0.066},{"r":30,"c":15,"v":0},{"r":30,"c":16,"v":0},{"r":30,"c":17,"v":0},{"r":30,"c":18,"v":0},{"r":30,"c":19,"v":0},{"r":30,"c":20,"v":0},{"r":30,"c":21,"v":0},{"r":30,"c":22,"v":0},{"r":30,"c":23,"v":0},{"r":30,"c":24,"v":0},
{"r":31,"c":1,"v":0},{"r":31,"c":2,"v":0},{"r":31,"c":3,"v":0},{"r":31,"c":4,"v":0},{"r":31,"c":5,"v":0},{"r":31,"c":6,"v":0},{"r":31,"c":7,"v":0},{"r":31,"c":8,"v":0},{"r":31,"c":9,"v":0},{"r":31,"c":10,"v":0},{"r":31,"c":11,"v":0},{"r":31,"c":12,"v":0},{"r":31,"c":13,"v":0},{"r":31,"c":14,"v":0.066},{"r":31,"c":15,"v":0.049},{"r":31,"c":16,"v":0},{"r":31,"c":17,"v":0},{"r":31,"c":18,"v":0},{"r":31,"c":19,"v":0},{"r":31,"c":20,"v":0},{"r":31,"c":21,"v":0},{"r":31,"c":22,"v":0},{"r":31,"c":23,"v":0},{"r":31,"c":24,"v":0},
{"r":32,"c":1,"v":0},{"r":32,"c":2,"v":0},{"r":32,"c":3,"v":0},{"r":32,"c":4,"v":0},{"r":32,"c":5,"v":0},{"r":32,"c":6,"v":0},{"r":32,"c":7,"v":0.041},{"r":32,"c":8,"v":0.051},{"r":32,"c":9,"v":0},{"r":32,"c":10,"v":0},{"r":32,"c":11,"v":0},{"r":32,"c":12,"v":0},{"r":32,"c":13,"v":0.057},{"r":32,"c":14,"v":0.069},{"r":32,"c":15,"v":0.054},{"r":32,"c":16,"v":0.041},{"r":32,"c":17,"v":0.036},{"r":32,"c":18,"v":0.038},{"r":32,"c":19,"v":0.049},{"r":32,"c":20,"v":0.055},{"r":32,"c":21,"v":0.059},{"r":32,"c":22,"v":0.07},{"r":32,"c":23,"v":0.087},{"r":32,"c":24,"v":0},
{"r":33,"c":1,"v":0},{"r":33,"c":2,"v":0},{"r":33,"c":3,"v":0},{"r":33,"c":4,"v":0},{"r":33,"c":5,"v":0},{"r":33,"c":6,"v":0},{"r":33,"c":7,"v":0},{"r":33,"c":8,"v":0},{"r":33,"c":9,"v":0},{"r":33,"c":10,"v":0},{"r":33,"c":11,"v":0},{"r":33,"c":12,"v":0.051},{"r":33,"c":13,"v":0.071},{"r":33,"c":14,"v":0.071},{"r":33,"c":15,"v":0.085},{"r":33,"c":16,"v":0.083},{"r":33,"c":17,"v":0.059},{"r":33,"c":18,"v":0.064},{"r":33,"c":19,"v":0.093},{"r":33,"c":20,"v":0.087},{"r":33,"c":21,"v":0.102},{"r":33,"c":22,"v":0.07},{"r":33,"c":23,"v":0},{"r":33,"c":24,"v":0},
{"r":34,"c":1,"v":0},{"r":34,"c":2,"v":0},{"r":34,"c":3,"v":0},{"r":34,"c":4,"v":0},{"r":34,"c":5,"v":0},{"r":34,"c":6,"v":0},{"r":34,"c":7,"v":0},{"r":34,"c":8,"v":0},{"r":34,"c":9,"v":0.07},{"r":34,"c":10,"v":0.054},{"r":34,"c":11,"v":0.043},{"r":34,"c":12,"v":0.05},{"r":34,"c":13,"v":0.053},{"r":34,"c":14,"v":0},{"r":34,"c":15,"v":0.045},{"r":34,"c":16,"v":0.045},{"r":34,"c":17,"v":0.049},{"r":34,"c":18,"v":0.049},{"r":34,"c":19,"v":0.049},{"r":34,"c":20,"v":0.053},{"r":34,"c":21,"v":0.053},{"r":34,"c":22,"v":0.055},{"r":34,"c":23,"v":0.06},{"r":34,"c":24,"v":0.049},
{"r":35,"c":1,"v":0},{"r":35,"c":2,"v":0},{"r":35,"c":3,"v":0},{"r":35,"c":4,"v":0},{"r":35,"c":5,"v":0},{"r":35,"c":6,"v":0},{"r":35,"c":7,"v":0.041},{"r":35,"c":8,"v":0},{"r":35,"c":9,"v":0},{"r":35,"c":10,"v":0},{"r":35,"c":11,"v":0},{"r":35,"c":12,"v":0},{"r":35,"c":13,"v":0},{"r":35,"c":14,"v":0},{"r":35,"c":15,"v":0},{"r":35,"c":16,"v":0},{"r":35,"c":17,"v":0},{"r":35,"c":18,"v":0},{"r":35,"c":19,"v":0.049},{"r":35,"c":20,"v":0.053},{"r":35,"c":21,"v":0.053},{"r":35,"c":22,"v":0.072},{"r":35,"c":23,"v":0.069},{"r":35,"c":24,"v":0.049},
{"r":36,"c":1,"v":0},{"r":36,"c":2,"v":0},{"r":36,"c":3,"v":0},{"r":36,"c":4,"v":0},{"r":36,"c":5,"v":0},{"r":36,"c":6,"v":0},{"r":36,"c":7,"v":0},{"r":36,"c":8,"v":0},{"r":36,"c":9,"v":0},{"r":36,"c":10,"v":0},{"r":36,"c":11,"v":0},{"r":36,"c":12,"v":0},{"r":36,"c":13,"v":0},{"r":36,"c":14,"v":0},{"r":36,"c":15,"v":0},{"r":36,"c":16,"v":0},{"r":36,"c":17,"v":0},{"r":36,"c":18,"v":0},{"r":36,"c":19,"v":0},{"r":36,"c":20,"v":0},{"r":36,"c":21,"v":0.051},{"r":36,"c":22,"v":0.06},{"r":36,"c":23,"v":0.06},{"r":36,"c":24,"v":0.055}
]
},
"bounds": "flush",
"spacing": 0,
"hconcat": [
{
"width": 73,
"height": 573.5,
"data": {"name": "dendro"},
"layer": [
{"mark": {"type": "rule", "color": "#2a2a2a", "strokeWidth": 1},
"encoding": {
"x": {"field": "ph", "type": "quantitative", "scale": {"domain": [-1, 72], "reverse": true, "nice": false, "zero": false}, "axis": null},
"y": {"field": "py", "type": "quantitative", "scale": {"domain": [-0.6667, 36.5], "reverse": true, "nice": false, "zero": false}, "axis": null},
"y2": {"field": "cy"}}},
{"mark": {"type": "rule", "color": "#2a2a2a", "strokeWidth": 1},
"encoding": {
"x": {"field": "ph", "type": "quantitative", "scale": {"domain": [-1, 72], "reverse": true, "nice": false, "zero": false}, "axis": null},
"x2": {"field": "ch"},
"y": {"field": "cy", "type": "quantitative", "scale": {"domain": [-0.6667, 36.5], "reverse": true, "nice": false, "zero": false}, "axis": null}}}
]
},
{
"bounds": "flush",
"spacing": 3.5,
"resolve": {"scale": {"color": "independent"}, "legend": {"color": "independent"}},
"vconcat": [
{
"width": 715,
"height": 14.5,
"data": {"name": "cols"},
"mark": {"type": "rect", "stroke": "#a0a0a0", "strokeWidth": 1},
"encoding": {
"x": {"field": "col", "type": "nominal", "sort": {"field": "c", "op": "min"}, "scale": {"paddingInner": 0, "paddingOuter": 0}, "axis": null},
"y": {"field": "track", "type": "nominal", "scale": {"paddingInner": 0, "paddingOuter": 0}, "axis": {"orient": "right", "title": null, "domain": false, "ticks": false, "labelPadding": 4, "labelFontSize": 12.5, "labelColor": "#000"}},
"color": {"field": "fund", "type": "nominal", "scale": {"domain": ["易方达蓝筹精选混合", "易方达中小盘混合"], "range": ["#1ED3D8", "#FA7F7B"]},
"legend": {"orient": "none", "legendX": 967, "legendY": 0, "title": "FUND", "titleFontSize": 12.5, "titleFontWeight": "normal", "titleColor": "#000", "titlePadding": 3, "symbolType": "square", "symbolSize": 441, "symbolStrokeColor": "#a0a0a0", "symbolStrokeWidth": 1, "symbolOpacity": 1, "labelFontSize": 12, "labelColor": "#000", "labelOffset": 4, "rowPadding": 0, "padding": 0}}
}
},
{
"width": 715,
"height": 555.5,
"data": {"name": "cells"},
"transform": [
{"lookup": "r", "from": {"data": {"name": "stocks"}, "key": "r", "fields": ["stock"]}},
{"lookup": "c", "from": {"data": {"name": "cols"}, "key": "c", "fields": ["col"]}}
],
"mark": {"type": "rect", "stroke": "#8c8c8c", "strokeWidth": 1},
"encoding": {
"x": {"field": "col", "type": "nominal", "sort": {"field": "c", "op": "min"}, "scale": {"paddingInner": 0, "paddingOuter": 0},
"axis": {"orient": "bottom", "title": null, "domain": false, "ticks": false, "labelAngle": 90, "labelAlign": "left", "labelBaseline": "middle", "labelPadding": 8, "labelFontSize": 12, "labelColor": "#000"}},
"y": {"field": "stock", "type": "nominal", "sort": {"field": "r", "op": "min"}, "scale": {"paddingInner": 0, "paddingOuter": 0},
"axis": {"orient": "right", "title": null, "domain": false, "ticks": false, "labelPadding": 4, "labelFontSize": 13, "labelLimit": 0, "labelColor": "#000"}},
"color": {"field": "v", "type": "quantitative",
"scale": {"domain": [0, 0.01728, 0.03457, 0.05185, 0.06913, 0.08642, 0.1037], "range": ["#3560A8", "#8FB9DA", "#E0F3F8", "#FFFFBF", "#FEE090", "#FA8A55", "#CF2626"]},
"legend": {"orient": "none", "legendX": 917, "legendY": -17, "title": null, "direction": "vertical", "gradientLength": 197, "gradientThickness": 13, "gradientStrokeWidth": 0, "values": [0, 0.02, 0.04, 0.06, 0.08, 0.1], "format": "~g", "labelFontSize": 14, "labelOffset": 5, "labelOverlap": false, "labelColor": "#222", "padding": 0}}
}
}
]
}
]
}
